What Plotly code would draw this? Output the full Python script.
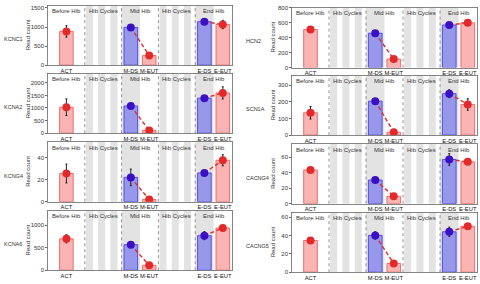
import plotly.graph_objects as go

# ---------------- data ----------------
categories = ["ACT", "M-DS", "M-EUT", "E-DS", "E-EUT"]
sections = ["Before Hib", "Hib Cycles", "Mid Hib", "Hib Cycles", "End Hib"]

genes_left = ["KCNC1", "KCNA2", "KCNG4", "KCNA6"]
genes_right = ["HCN2", "SCN1A", "CACNG4", "CACNG5"]

kcnc1_mean = [885, 990, 250, 1140, 1065]
kcnc1_err = [150, 30, 25, 30, 110]
kcna2_mean = [1030, 1080, 110, 1390, 1600]
kcna2_err = [330, 120, 30, 40, 240]
kcng4_mean = [25.5, 22, 2, 26, 37.5]
kcng4_err = [8.5, 7.5, 0.5, 1.5, 5]
kcna6_mean = [700, 570, 110, 770, 940]
kcna6_err = [90, 30, 15, 90, 40]

hcn2_mean = [510, 460, 115, 570, 600]
hcn2_err = [25, 15, 10, 20, 15]
scn1a_mean = [135, 205, 18, 250, 185]
scn1a_err = [38, 12, 4, 24, 35]
cacng4_mean = [43.5, 30.5, 9.5, 57, 54]
cacng4_err = [3.5, 1.5, 1, 7.5, 2]
cacng5_mean = [34.5, 40, 9.5, 44, 50]
cacng5_err = [2, 4, 1, 5, 1.5]

means = [kcnc1_mean, kcna2_mean, kcng4_mean, kcna6_mean,
         hcn2_mean, scn1a_mean, cacng4_mean, cacng5_mean]
errs = [kcnc1_err, kcna2_err, kcng4_err, kcna6_err,
        hcn2_err, scn1a_err, cacng4_err, cacng5_err]
genes = genes_left + genes_right
y_top = [1565, 2370, 54, 1330, 805, 360, 77, 65]
y_dtick = [500, 500, 20, 500, 200, 100, 20, 20]

# ---------------- layout helpers ----------------
W, H = 480, 284
cat_x = [0.5, 2.25, 2.75, 4.25, 4.75]
cat_is_ds = [False, True, False, True, False]
RED_FILL = "rgba(247,130,130,0.6)"
RED_EDGE = "rgba(240,80,80,0.8)"
BLUE_FILL = "rgba(120,120,238,0.7)"
BLUE_EDGE = "rgba(70,70,225,0.9)"
RED_DOT = "#e22a2a"
BLUE_DOT = "#3c0fc4"
GRAY = "#e3e3e3"
FONT = "Liberation Sans, Arial, sans-serif"

left_x = (48, 232)
right_x = (292, 477)
left_y = [(2.5, 63.5), (72, 133), (142, 203), (212, 273)]
right_y = [(4.5, 66), (74, 135), (144, 205), (214, 275)]

fig = go.Figure()
shapes = []
annotations = []

for i, gene in enumerate(genes):
    col = 0 if i < 4 else 1
    row = i % 4
    xpx = left_x if col == 0 else right_x
    ypx = (left_y if col == 0 else right_y)[row]
    n = i + 1
    xa = "x" if n == 1 else f"x{n}"
    ya = "y" if n == 1 else f"y{n}"
    xkey = "xaxis" if n == 1 else f"xaxis{n}"
    ykey = "yaxis" if n == 1 else f"yaxis{n}"

    vals = means[i]
    ers = errs[i]

    # bars
    fig.add_trace(go.Bar(
        x=cat_x, y=vals, width=0.37,
        marker=dict(color=[BLUE_FILL if d else RED_FILL for d in cat_is_ds],
                    line=dict(color=[BLUE_EDGE if d else RED_EDGE for d in cat_is_ds], width=1)),
        xaxis=xa, yaxis=ya, showlegend=False, hoverinfo="skip"))
    # dashed connecting lines
    for a, b in [(1, 2), (3, 4)]:
        fig.add_trace(go.Scatter(
            x=[cat_x[a], cat_x[b]], y=[vals[a], vals[b]], mode="lines",
            line=dict(color=RED_DOT, width=1.4, dash="4px,2.5px"),
            xaxis=xa, yaxis=ya, showlegend=False, hoverinfo="skip"))
    # dots with error bars
    fig.add_trace(go.Scatter(
        x=cat_x, y=vals, mode="markers",
        marker=dict(size=8, color=[BLUE_DOT if d else RED_DOT for d in cat_is_ds]),
        error_y=dict(type="data", array=ers, color="#222222", thickness=1, width=1),
        xaxis=xa, yaxis=ya, showlegend=False, hoverinfo="skip"))

    xdom = [xpx[0] / W, xpx[1] / W]
    ydom = [1 - ypx[1] / H, 1 - ypx[0] / H]
    fig.layout[xkey] = dict(
        domain=xdom, range=[0, 5], anchor=ya,
        tickvals=cat_x, ticktext=categories, ticks="", tickangle=0,
        tickfont=dict(size=5.8, family=FONT, color="#111"),
        showgrid=False, zeroline=False,
        showline=True, linecolor="#666", linewidth=0.8, mirror=True,
        fixedrange=True)
    fig.layout[ykey] = dict(
        domain=ydom, range=[0, y_top[i]], anchor=xa,
        dtick=y_dtick[i], ticks="outside", ticklen=2, tickcolor="#666",
        tickfont=dict(size=6, family=FONT, color="#333"),
        showgrid=False, zeroline=False,
        showline=True, linecolor="#666", linewidth=0.8, mirror=True,
        fixedrange=True)

    # background shading (below traces)
    for k in range(3):
        for base in (1, 3):
            shapes.append(dict(type="rect", xref=xa, yref=f"{ya} domain",
                               x0=base + k / 3 + 0.03, x1=base + k / 3 + 0.22, y0=0, y1=1,
                               fillcolor=GRAY, line=dict(width=0), layer="below"))
    for base in (2, 4):
        shapes.append(dict(type="rect", xref=xa, yref=f"{ya} domain",
                           x0=base, x1=base + 0.5, y0=0, y1=1,
                           fillcolor=GRAY, line=dict(width=0), layer="below"))
    for xv in (1, 2, 3, 4):
        shapes.append(dict(type="line", xref=xa, yref=f"{ya} domain",
                           x0=xv, x1=xv, y0=0, y1=1,
                           line=dict(color="#777", width=0.8, dash="dot"), layer="above"))

    # section labels
    for s, name in enumerate(sections):
        annotations.append(dict(text=name, x=s + 0.5, y=0.985, xref=xa, yref=f"{ya} domain",
                                xanchor="center", yanchor="top", showarrow=False,
                                font=dict(size=6, family=FONT, color="#333")))
    # y title
    ymid = 1 - (ypx[0] + ypx[1]) / 2 / H
    annotations.append(dict(text="Read count", x=(28 if col == 0 else 273) / W, y=ymid,
                            xref="paper", yref="paper", textangle=-90,
                            xanchor="center", yanchor="middle", showarrow=False,
                            font=dict(size=6, family=FONT, color="#333")))
    # gene label
    annotations.append(dict(text=gene, x=(2 if col == 0 else 244) / W,
                            y=1 - ((ypx[0] + ypx[1]) / 2 + 4) / H,
                            xref="paper", yref="paper",
                            xanchor="left", yanchor="middle", showarrow=False,
                            font=dict(size=5.5, family=FONT, color="#333")))

fig.update_layout(
    width=W, height=H, margin=dict(l=0, r=0, t=0, b=0),
    paper_bgcolor="white", plot_bgcolor="rgba(0,0,0,0)",
    shapes=shapes, annotations=annotations, barmode="overlay",
    font=dict(family=FONT))

fig.write_html("out.html", config={"displayModeBar": False, "staticPlot": True},
               post_script="document.body.style.margin='0';document.body.style.overflow='hidden';")
